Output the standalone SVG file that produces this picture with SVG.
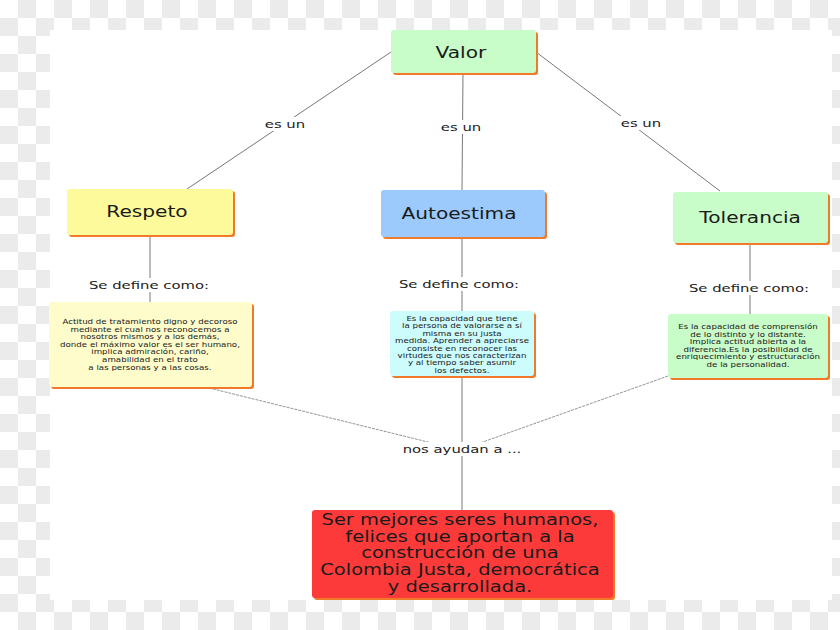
<svg xmlns="http://www.w3.org/2000/svg" width="840" height="630" viewBox="0 0 840 630">
<defs>
<pattern id="chk" x="0" y="0" width="36" height="36" patternUnits="userSpaceOnUse">
<rect width="36" height="36" fill="#ffffff"/>
<rect x="18" y="0" width="18" height="18" fill="#ebebeb"/>
<rect x="0" y="18" width="18" height="18" fill="#ebebeb"/>
</pattern>
</defs>
<style>
.sh{fill:#f07a2a}
.t{font-family:"DejaVu Sans",Verdana,sans-serif;fill:#1a1a1a;text-anchor:middle;transform-box:fill-box;transform-origin:center}
.title{font-size:15.5px;transform:scaleX(1.3)}
.lbl{font-size:11px;fill:#222;transform:scaleX(1.35)}
.small{font-size:7.4px;transform:scaleX(1.17)}
.big{font-size:15px;fill:#1a1a1a;transform:scaleX(1.3)}
.ln{stroke:#555;stroke-width:0.8;fill:none}
.lnf{stroke:#666;stroke-width:0.7;fill:none;stroke-dasharray:3 1}
</style>
<rect width="840" height="630" fill="url(#chk)"/>
<rect x="50" y="30" width="782" height="570" fill="#ffffff"/>

<g id="connectors">
<line class="ln" x1="391" y1="52" x2="187" y2="189"/>
<line class="ln" x1="463" y1="73" x2="462" y2="190"/>
<line class="ln" x1="536" y1="52" x2="720" y2="191"/>
<line class="ln" x1="150" y1="235" x2="150" y2="302"/>
<line class="ln" x1="462" y1="237" x2="462" y2="311"/>
<line class="ln" x1="750" y1="243" x2="750" y2="314"/>
<line class="lnf" x1="205" y1="387" x2="432" y2="443"/>
<line class="lnf" x1="668" y1="376" x2="480" y2="443"/>
<line class="ln" x1="462" y1="376" x2="462" y2="510"/>
<rect x="262" y="117" width="46" height="14" fill="#fff"/>
<text class="t lbl" x="285" y="128">es un</text>
<rect x="438" y="120" width="46" height="14" fill="#fff"/>
<text class="t lbl" x="461" y="131">es un</text>
<rect x="618" y="116" width="46" height="14" fill="#fff"/>
<text class="t lbl" x="641" y="127">es un</text>
<rect x="90" y="278" width="120" height="14" fill="#fff"/>
<text class="t lbl" x="149" y="289">Se define como:</text>
<rect x="400" y="277" width="118" height="14" fill="#fff"/>
<text class="t lbl" x="459" y="288">Se define como:</text>
<rect x="690" y="281" width="120" height="14" fill="#fff"/>
<text class="t lbl" x="749" y="292">Se define como:</text>
<rect x="402" y="442" width="120" height="14" fill="#fff"/>
<text class="t lbl" x="462" y="453">nos ayudan a ...</text>
</g>

<g id="valor">
<rect class="sh" x="393" y="32" width="145" height="43" rx="3"/>
<rect x="391" y="30" width="145" height="43" rx="3" fill="#c8fcc8"/>
<text class="t title" x="461" y="58">Valor</text>
</g>

<g id="respeto">
<rect class="sh" x="69" y="191" width="166" height="46" rx="3"/>
<rect x="67" y="189" width="166" height="46" rx="3" fill="#fdfa9b"/>
<text class="t title" x="147" y="217">Respeto</text>
</g>

<g id="autoestima">
<rect class="sh" x="383" y="192" width="164" height="47" rx="3"/>
<rect x="381" y="190" width="164" height="47" rx="3" fill="#9ccafc"/>
<text class="t title" x="459" y="219">Autoestima</text>
</g>

<g id="tolerancia">
<rect class="sh" x="675" y="194" width="155" height="51" rx="3"/>
<rect x="673" y="192" width="155" height="51" rx="3" fill="#c8fcc8"/>
<text class="t title" x="750" y="223">Tolerancia</text>
</g>

<g id="respeto-def">
<rect class="sh" x="51" y="304" width="203" height="85" rx="3"/>
<rect x="49" y="302" width="203" height="85" rx="3" fill="#fefccb"/>
<text class="t small" x="150" y="324">Actitud de tratamiento digno y decoroso</text>
<text class="t small" x="150" y="331.6">mediante el cual nos reconocemos a</text>
<text class="t small" x="150" y="339.2">nosotros mismos y a los demás,</text>
<text class="t small" x="150" y="346.8">donde el máximo valor es el ser humano,</text>
<text class="t small" x="150" y="354.4">implica admiración, cariño,</text>
<text class="t small" x="150" y="362">amabilidad en el trato</text>
<text class="t small" x="150" y="369.6">a las personas y a las cosas.</text>
</g>

<g id="autoestima-def">
<rect class="sh" x="392" y="313" width="144" height="65" rx="3"/>
<rect x="390" y="311" width="144" height="65" rx="3" fill="#ccfcfc"/>
<text class="t small" x="462" y="321">Es la capacidad que tiene</text>
<text class="t small" x="462" y="328.4">la persona de valorarse a sí</text>
<text class="t small" x="462" y="335.8">misma en su justa</text>
<text class="t small" x="462" y="343.2">medida. Aprender a apreciarse</text>
<text class="t small" x="462" y="350.6">consiste en reconocer las</text>
<text class="t small" x="462" y="358">virtudes que nos caracterizan</text>
<text class="t small" x="462" y="365.4">y al tiempo saber asumir</text>
<text class="t small" x="462" y="372.8">los defectos.</text>
</g>

<g id="tolerancia-def">
<rect class="sh" x="670" y="316" width="160" height="64" rx="3"/>
<rect x="668" y="314" width="160" height="64" rx="3" fill="#c8fcc8"/>
<text class="t small" x="748" y="329">Es la capacidad de comprensión</text>
<text class="t small" x="748" y="336.6">de lo distinto y lo distante.</text>
<text class="t small" x="748" y="344.2">Implica actitud abierta a la</text>
<text class="t small" x="748" y="351.8">diferencia.Es la posibilidad de</text>
<text class="t small" x="748" y="359.4">enriquecimiento y estructuración</text>
<text class="t small" x="748" y="367">de la personalidad.</text>
</g>

<g id="resultado">
<rect class="sh" x="314" y="512" width="301" height="88" rx="3"/>
<rect x="312" y="510" width="301" height="88" rx="3" fill="#fd3a3a"/>
<text class="t big" x="460" y="525">Ser mejores seres humanos,</text>
<text class="t big" x="460" y="542">felices que aportan a la</text>
<text class="t big" x="460" y="558">construcción de una</text>
<text class="t big" x="460" y="575">Colombia Justa, democrática</text>
<text class="t big" x="460" y="592">y desarrollada.</text>
</g>
</svg>
